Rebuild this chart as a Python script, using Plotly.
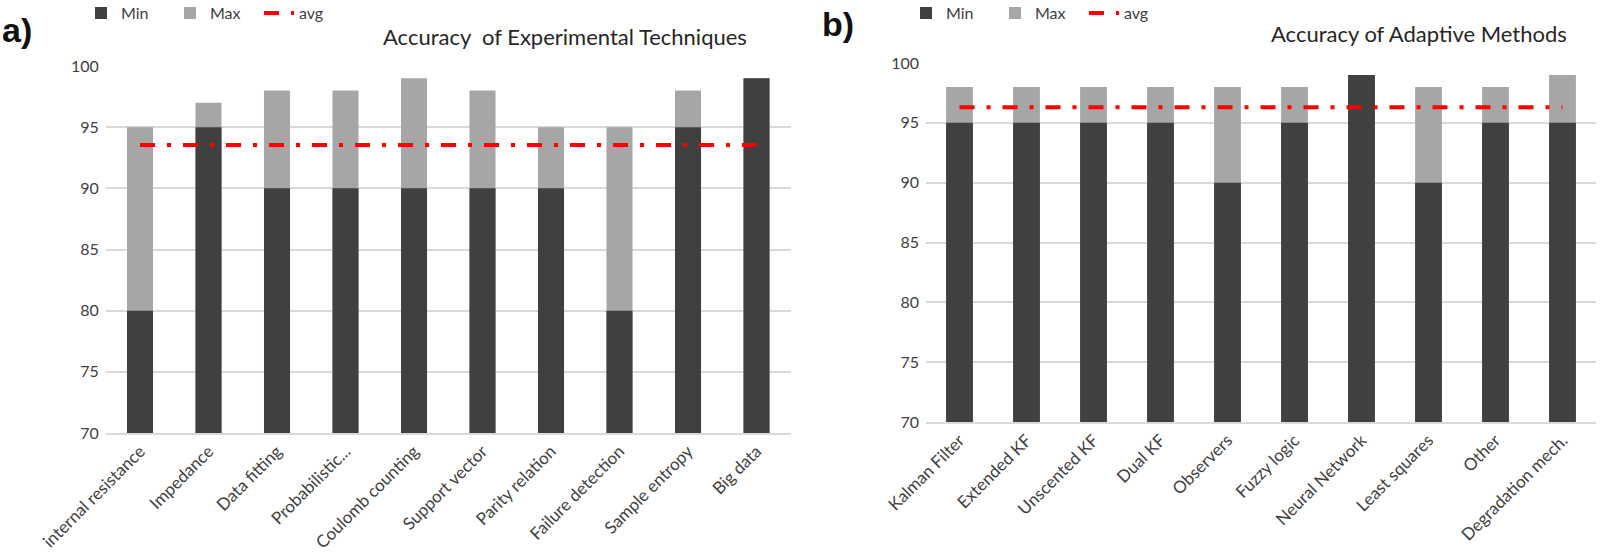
import plotly.graph_objects as go

# ---- data ----
exp_categories = ["internal resistance", "Impedance", "Data fitting", "Probabilistic...",
                  "Coulomb counting", "Support vector", "Parity relation",
                  "Failure detection", "Sample entropy", "Big data"]
exp_min = [80, 95, 90, 90, 90, 90, 90, 80, 95, 99]
exp_max = [95, 97, 98, 98, 99, 98, 95, 95, 98, 99]
exp_avg = 93.55

ada_categories = ["Kalman Filter", "Extended KF", "Unscented KF", "Dual KF", "Observers",
                  "Fuzzy logic", "Neural Network", "Least squares", "Other",
                  "Degradation mech."]
ada_min = [95, 95, 95, 95, 90, 95, 99, 90, 95, 95]
ada_max = [98, 98, 98, 98, 98, 98, 99, 98, 98, 99]
ada_avg = 96.3

y_ticks = [70, 75, 80, 85, 90, 95, 100]

# ---- style ----
DARK = "#404040"
LIGHT = "#a6a6a6"
RED = "#ff0000"
GRID = "#d9d9d9"
TXT = "#404040"
FONT = "Lato"
W, H = 1600, 553

fig = go.Figure()


def add_panel(cats, mins, maxs, avg, xa, ya, leg, width):
    fig.add_trace(go.Bar(x=cats, y=maxs, name="Max", marker=dict(color=LIGHT, line=dict(width=0)),
                         xaxis=xa, yaxis=ya, legend=leg, legendrank=2, width=width))
    fig.add_trace(go.Bar(x=cats, y=mins, name="Min", marker=dict(color=DARK, line=dict(width=0)),
                         xaxis=xa, yaxis=ya, legend=leg, legendrank=1, width=width))
    fig.add_trace(go.Scatter(x=[cats[0], cats[-1]], y=[avg, avg], name="avg", mode="lines",
                             line=dict(color=RED, width=4, dash="15px,12px,4px,12px"),
                             xaxis=xa, yaxis=ya, legend=leg, legendrank=3))


add_panel(exp_categories, exp_min, exp_max, exp_avg, "x", "y", "legend", 0.38)
add_panel(ada_categories, ada_min, ada_max, ada_avg, "x2", "y2", "legend2", 0.40)

xcommon = dict(showgrid=False, showline=True, linecolor=GRID, linewidth=1.5, ticks="",
               tickangle=-45, automargin=False,
               tickfont=dict(family=FONT, size=17, color=TXT), fixedrange=True)
ycommon = dict(range=[70, 100], tickvals=y_ticks, showgrid=True, gridcolor=GRID, gridwidth=1.5,
               zeroline=False, showline=False, ticks="", ticklabelstandoff=6, automargin=False,
               tickfont=dict(family=FONT, size=16, color=TXT), fixedrange=True)

legcommon = dict(orientation="h", xanchor="left", yanchor="top", yref="paper", y=1.007,
                 font=dict(family=FONT, size=16, color=TXT), bgcolor="rgba(0,0,0,0)",
                 traceorder="normal", entrywidth=44, itemwidth=30)

fig.update_layout(
    width=W, height=H,
    margin=dict(l=0, r=0, t=0, b=0, autoexpand=False),
    paper_bgcolor="white", plot_bgcolor="white",
    barmode="overlay",
    xaxis=dict(domain=[105.75 / W, 790.75 / W], anchor="y", **xcommon),
    yaxis=dict(domain=[1 - 433 / H, 1 - 66 / H], anchor="x", **ycommon),
    xaxis2=dict(domain=[926 / W, 1596 / W], anchor="y2", **xcommon),
    yaxis2=dict(domain=[1 - 422 / H, 1 - 63 / H], anchor="x2", **ycommon),
    legend=dict(x=81 / W, **legcommon),
    legend2=dict(x=906 / W, **legcommon),
    annotations=[
        dict(text="<b>a)</b>", x=0, y=1 - 30 / H, xref="paper", yref="paper",
             xanchor="left", yanchor="middle", showarrow=False,
             font=dict(family="Liberation Sans", size=34, color="#111")),
        dict(text="<b>b)</b>", x=820 / W, y=1 - 24 / H, xref="paper", yref="paper",
             xanchor="left", yanchor="middle", showarrow=False,
             font=dict(family="Liberation Sans", size=34, color="#111")),
        dict(text="Accuracy\u00a0 of Experimental Techniques", x=565 / W, y=1 - 36 / H,
             xref="paper", yref="paper", xanchor="center", yanchor="middle", showarrow=False,
             font=dict(family=FONT, size=22, color="#262626")),
        dict(text="Accuracy of Adaptive Methods", x=1419 / W, y=1 - 34 / H,
             xref="paper", yref="paper", xanchor="center", yanchor="middle", showarrow=False,
             font=dict(family=FONT, size=22, color="#262626")),
    ],
)

fig.write_html("out.html", config={"displayModeBar": False},
               post_script="document.body.style.margin='0';document.body.style.overflow='hidden';")
